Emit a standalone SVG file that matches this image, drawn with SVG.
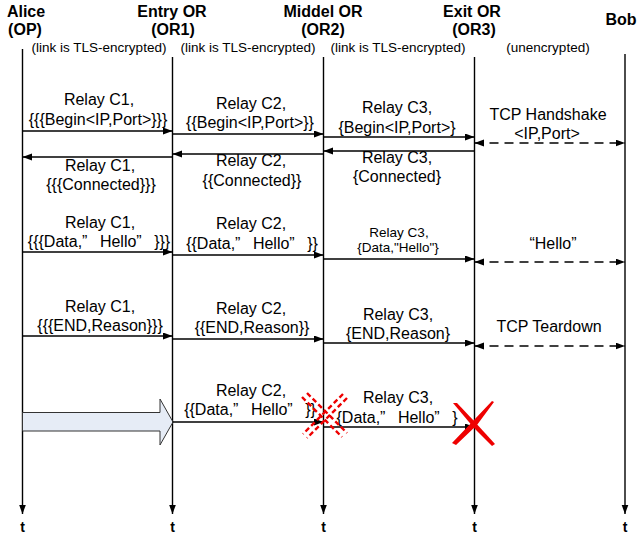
<svg xmlns="http://www.w3.org/2000/svg" width="641" height="535" viewBox="0 0 641 535">
<style>
.t{font-family:"Liberation Sans",Arial,sans-serif;font-size:16px;fill:#000;text-anchor:middle}
.h{font-family:"Liberation Sans",Arial,sans-serif;font-size:16px;font-weight:bold;fill:#000;text-anchor:middle}
.s{font-family:"Liberation Sans",Arial,sans-serif;font-size:13.5px;fill:#000;text-anchor:middle}
.sm{font-family:"Liberation Sans",Arial,sans-serif;font-size:13.5px;fill:#000;text-anchor:middle}
.tt{font-family:"Liberation Sans",Arial,sans-serif;font-size:14px;font-weight:bold;fill:#000;text-anchor:middle}
.life{stroke:#000;stroke-width:1.4;fill:none}
.msg{stroke:#000;stroke-width:1.4;fill:none;marker-end:url(#ah)}
.dash{stroke:#000;stroke-width:1.5;fill:none;stroke-dasharray:9 6;marker-end:url(#ah);marker-start:url(#ah)}
.rd{stroke:#e00;stroke-width:2.4;fill:none;stroke-dasharray:5 3}
</style>
<defs>
<marker id="ah" markerUnits="userSpaceOnUse" markerWidth="10" markerHeight="8" refX="9.5" refY="3.5" orient="auto-start-reverse">
<path d="M0,0 L9.5,3.5 L0,7 z" fill="#000"/>
</marker>
</defs>

<g id="alice">
<text class="h" x="26" y="17">Alice</text>
<text class="h" x="25" y="35">(OP)</text>
<line class="life" x1="22.5" y1="49" x2="22.5" y2="514" marker-end="url(#ah)"/>
<text class="tt" x="22.5" y="532">t</text>
</g>
<g id="entry">
<text class="h" x="172" y="17">Entry OR</text>
<text class="h" x="173" y="35">(OR1)</text>
<line class="life" x1="172.5" y1="57" x2="172.5" y2="514" marker-end="url(#ah)"/>
<text class="tt" x="172.5" y="532">t</text>
</g>
<g id="middle">
<text class="h" x="323" y="17">Middel OR</text>
<text class="h" x="323" y="35">(OR2)</text>
<line class="life" x1="323.5" y1="57" x2="323.5" y2="514" marker-end="url(#ah)"/>
<text class="tt" x="323.5" y="532">t</text>
</g>
<g id="exit">
<text class="h" x="472" y="17">Exit OR</text>
<text class="h" x="474" y="35">(OR3)</text>
<line class="life" x1="474.5" y1="57" x2="474.5" y2="514" marker-end="url(#ah)"/>
<text class="tt" x="474.5" y="532">t</text>
</g>
<g id="bob">
<text class="h" x="621" y="25">Bob</text>
<line class="life" x1="625" y1="54" x2="625" y2="514" marker-end="url(#ah)"/>
<text class="tt" x="625" y="532">t</text>
</g>

<g id="link-labels">
<text class="s" x="99" y="52">(link is TLS-encrypted)</text>
<text class="s" x="248" y="52">(link is TLS-encrypted)</text>
<text class="s" x="398" y="52">(link is TLS-encrypted)</text>
<text class="s" x="548" y="52">(unencrypted)</text>
</g>

<g id="connectors">
<line class="msg" x1="22.5" y1="131" x2="172.5" y2="131"/>
<line class="msg" x1="172.5" y1="134" x2="323.5" y2="134"/>
<line class="msg" x1="323.5" y1="137" x2="474.5" y2="137"/>
<line class="dash" x1="474.5" y1="143" x2="625" y2="143"/>
<line class="msg" x1="474.5" y1="151" x2="323.5" y2="151"/>
<line class="msg" x1="323.5" y1="154" x2="172.5" y2="154"/>
<line class="msg" x1="172.5" y1="157" x2="22.5" y2="157"/>
<line class="msg" x1="22.5" y1="252" x2="172.5" y2="252"/>
<line class="msg" x1="172.5" y1="255" x2="323.5" y2="255"/>
<line class="msg" x1="323.5" y1="259" x2="474.5" y2="259"/>
<line class="dash" x1="474.5" y1="262" x2="625" y2="262"/>
<line class="msg" x1="22.5" y1="336" x2="172.5" y2="336"/>
<line class="msg" x1="172.5" y1="339" x2="323.5" y2="339"/>
<line class="msg" x1="323.5" y1="343" x2="474.5" y2="343"/>
<line class="dash" x1="474.5" y1="346" x2="625" y2="346"/>
<path d="M22.5,412.5 L160,412.5 L160,399 L173,422 L160,445 L160,431 L22.5,431 z" fill="#e6ecf6" stroke="#333" stroke-width="1"/>
<line class="msg" x1="172.5" y1="422" x2="323.5" y2="422"/>
<line class="msg" x1="323.5" y1="427" x2="474.5" y2="427"/>
</g>

<g id="labels">
<text class="t" x="99" y="105">Relay C1,</text>
<text class="t" x="98" y="125">{{{Begin&lt;IP,Port&gt;}}}</text>
<text class="t" x="251" y="109">Relay C2,</text>
<text class="t" x="250" y="128">{{Begin&lt;IP,Port&gt;}}</text>
<text class="t" x="397" y="113">Relay C3,</text>
<text class="t" x="397" y="133">{Begin&lt;IP,Port&gt;}</text>
<text class="t" x="548" y="120">TCP Handshake</text>
<text class="t" x="547" y="139">&lt;IP,Port&gt;</text>

<text class="t" x="100" y="171">Relay C1,</text>
<text class="t" x="101" y="190">{{{Connected}}}</text>
<text class="t" x="251" y="166">Relay C2,</text>
<text class="t" x="252" y="186">{{Connected}}</text>
<text class="t" x="397" y="163">Relay C3,</text>
<text class="t" x="397" y="182">{Connected}</text>

<text class="t" x="100" y="228">Relay C1,</text>
<text class="t" x="99" y="247">{{{Data,” <tspan dx="8">Hello”</tspan> <tspan dx="8">}}}</tspan></text>
<text class="t" x="251" y="229">Relay C2,</text>
<text class="t" x="252" y="249">{{Data,” <tspan dx="8">Hello”</tspan> <tspan dx="8">}}</tspan></text>
<text class="sm" x="399" y="237">Relay C3,</text>
<text class="sm" x="398" y="252">{Data,"Hello"}</text>
<text class="t" x="549" y="249"><tspan dx="4">“Hello”</tspan></text>

<text class="t" x="100" y="312">Relay C1,</text>
<text class="t" x="100" y="331">{{{END,Reason}}}</text>
<text class="t" x="251" y="314">Relay C2,</text>
<text class="t" x="252" y="333">{{END,Reason}}</text>
<text class="t" x="398" y="320">Relay C3,</text>
<text class="t" x="398" y="339">{END,Reason}</text>
<text class="t" x="549" y="332">TCP Teardown</text>

<text class="t" x="251" y="396">Relay C2,</text>
<text class="t" x="250" y="415">{{Data,” <tspan dx="8">Hello”</tspan> <tspan dx="8">}}</tspan></text>
<text class="t" x="398" y="403">Relay C3,</text>
<text class="t" x="397" y="423">{Data,” <tspan dx="8">Hello”</tspan> <tspan dx="8">}</tspan></text>
</g>

<g id="drop-marks">
<line class="rd" x1="302" y1="397" x2="342" y2="437"/>
<line class="rd" x1="307" y1="393" x2="347" y2="433"/>
<line class="rd" x1="343" y1="394" x2="303" y2="434"/>
<line class="rd" x1="347" y1="398" x2="307" y2="438"/>
<g fill="#e00">
<path d="M453,403 L457,403 L474,421 L495,444 L492,446 L474,428 Z"/>
<path d="M494,402 L492,401 L474,420 L452,443 L456,445 L477,425 Z"/>
</g>
</g>
</svg>
